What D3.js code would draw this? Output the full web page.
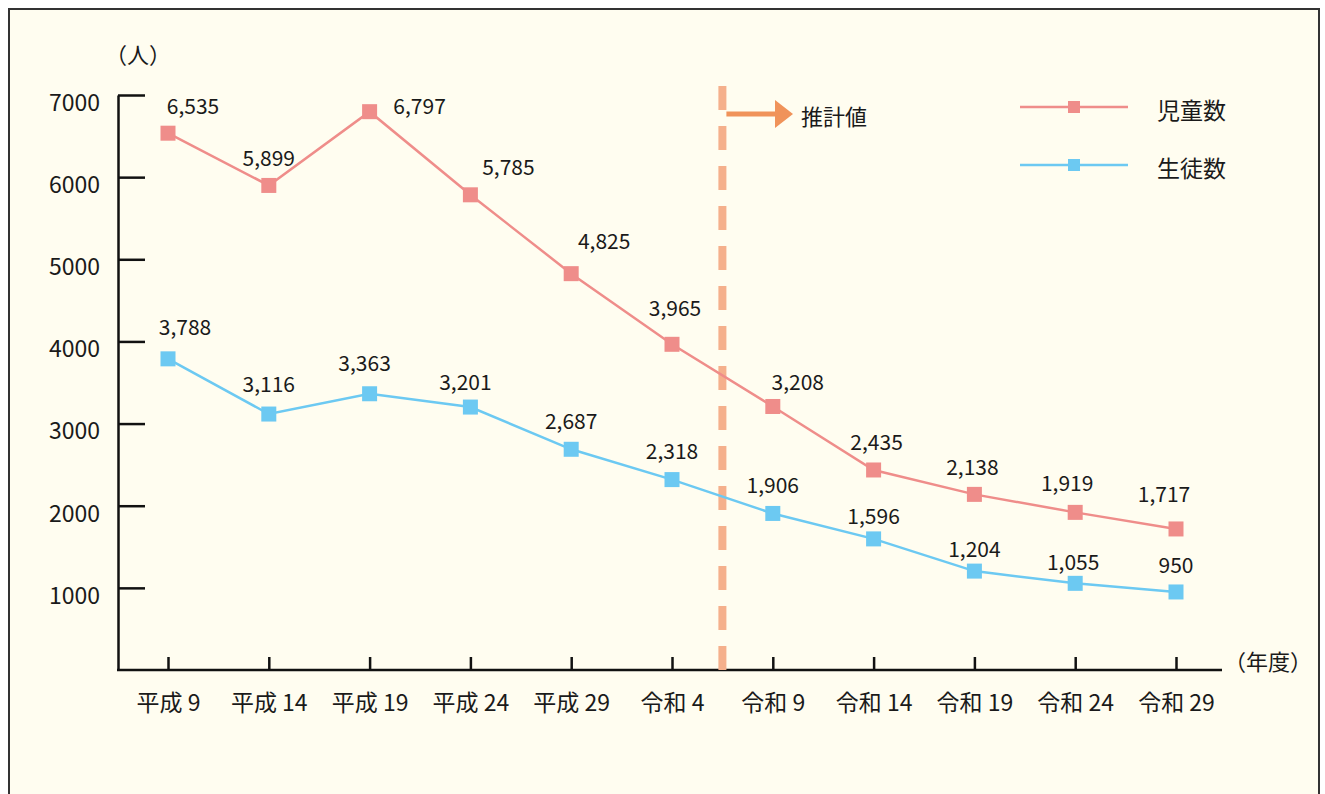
<!DOCTYPE html>
<html>
<head>
<meta charset="utf-8">
<script src="https://cdn.jsdelivr.net/npm/d3@7"></script>
<style>
  html, body { margin: 0; padding: 0; background: #ffffff; }
  svg text { font-family: "Noto Sans CJK JP", "Noto Sans", sans-serif; fill: #1a1a1a; }
</style>
</head>
<body>
<div id="chart"></div>
<script>
// years on the x axis
var years = ["平成 9", "平成 14", "平成 19", "平成 24", "平成 29", "令和 4",
             "令和 9", "令和 14", "令和 19", "令和 24", "令和 29"];
// 児童数 (elementary pupils)
var jidou = [6535, 5899, 6797, 5785, 4825, 3965, 3208, 2435, 2138, 1919, 1717];
// 生徒数 (junior high students)
var seito = [3788, 3116, 3363, 3201, 2687, 2318, 1906, 1596, 1204, 1055, 950];
var yTicks = [1000, 2000, 3000, 4000, 5000, 6000, 7000];

// small nudges for the value labels, as in the original
var jidouNudge = [[25, -28], [0, -28], [50, -7], [38, -29], [33, -34], [3, -37],
                  [25, -25], [3, -29], [-2, -28], [-8, -30], [-12, -36]];
var seitoNudge = [[17, -33], [0, -31], [-5, -32], [-5, -26], [0, -29], [0, -30],
                  [0, -29], [0, -24], [0, -23], [-2, -22], [0, -28]];

var width = 1325, height = 794;
var red = "#ef8d8a", blue = "#6cc9f2";
var markerSize = 15;

var svg = d3.select("#chart").append("svg")
  .attr("width", width)
  .attr("height", height);

// panel background and frame
svg.append("rect")
  .attr("x", 9).attr("y", 9)
  .attr("width", 1310).attr("height", 800)
  .attr("fill", "#fffdf0")
  .attr("stroke", "#333")
  .attr("stroke-width", 2);

var xScale = d3.scalePoint().domain(years).range([168, 1176]);
var yScale = d3.scaleLinear().domain([0, 7000]).range([670, 95]);

// y axis, ticks pointing inward
var yAxis = d3.axisLeft(yScale)
  .tickValues(yTicks)
  .tickSize(-27)
  .tickSizeOuter(0)
  .tickPadding(18)
  .tickFormat(d3.format("d"));

var gy = svg.append("g").attr("transform", "translate(118,0)").call(yAxis);
gy.select(".domain").attr("stroke", "#111").attr("stroke-width", 2.5);
gy.selectAll(".tick line").attr("stroke", "#111").attr("stroke-width", 2.5);
gy.selectAll("text")
  .attr("y", 8)
  .style("font-size", "23px")
  .attr("fill", "#1a1a1a");

// x axis
var xAxis = d3.axisBottom(xScale).tickSize(-13).tickSizeOuter(0).tickPadding(25);
var gx = svg.append("g").attr("transform", "translate(0,670)").call(xAxis);
gx.select(".domain").remove();
gx.selectAll(".tick line").attr("stroke", "#111").attr("stroke-width", 2.5);
gx.selectAll("text").style("font-size", "23px").attr("fill", "#1a1a1a");
svg.append("line")
  .attr("x1", 117).attr("x2", 1222)
  .attr("y1", 670).attr("y2", 670)
  .attr("stroke", "#111").attr("stroke-width", 2.5);

// axis units
svg.append("text").attr("x", 138).attr("y", 53)
  .attr("text-anchor", "middle").attr("dominant-baseline", "central")
  .style("font-size", "22px").text("（人）");
svg.append("text").attr("x", 1268).attr("y", 660)
  .attr("text-anchor", "middle").attr("dominant-baseline", "central")
  .style("font-size", "22px").text("（年度）");

// boundary of estimated values
var xSplit = (xScale(years[5]) + xScale(years[6])) / 2;
svg.append("line")
  .attr("x1", xSplit).attr("x2", xSplit)
  .attr("y1", 670).attr("y2", 78)
  .attr("stroke", "#f5b08c")
  .attr("stroke-width", 8)
  .attr("stroke-dasharray", "24,16");

svg.append("line")
  .attr("x1", xSplit + 4).attr("x2", 777)
  .attr("y1", 114).attr("y2", 114)
  .attr("stroke", "#f0935a").attr("stroke-width", 5);
svg.append("path")
  .attr("d", "M775,100 L793,114 L775,128 Z")
  .attr("fill", "#f0935a");
svg.append("text").attr("x", 801).attr("y", 115)
  .attr("dominant-baseline", "central")
  .style("font-size", "22px").text("推計値");

// series
var series = [
  { name: "児童数", values: jidou, color: red, nudge: jidouNudge, legendY: 107 },
  { name: "生徒数", values: seito, color: blue, nudge: seitoNudge, legendY: 165 }
];

var line = d3.line()
  .x((d, i) => xScale(years[i]))
  .y(d => yScale(d));

var fmt = d3.format(",");

series.forEach(function (s) {
  svg.append("path")
    .attr("d", line(s.values))
    .attr("fill", "none")
    .attr("stroke", s.color)
    .attr("stroke-width", 2.5);

  svg.append("g").selectAll("rect")
    .data(s.values)
    .join("rect")
    .attr("x", (d, i) => xScale(years[i]) - markerSize / 2)
    .attr("y", d => yScale(d) - markerSize / 2)
    .attr("width", markerSize)
    .attr("height", markerSize)
    .attr("fill", s.color);

  svg.append("g").selectAll("text")
    .data(s.values)
    .join("text")
    .attr("x", (d, i) => xScale(years[i]) + s.nudge[i][0])
    .attr("y", (d, i) => yScale(d) + s.nudge[i][1])
    .attr("text-anchor", "middle")
    .attr("dominant-baseline", "central")
    .style("font-size", "21px")
    .text(d => fmt(d));

  // legend
  svg.append("line")
    .attr("x1", 1020).attr("x2", 1128)
    .attr("y1", s.legendY).attr("y2", s.legendY)
    .attr("stroke", s.color).attr("stroke-width", 2.5);
  svg.append("rect")
    .attr("x", 1074 - 6).attr("y", s.legendY - 6)
    .attr("width", 12).attr("height", 12)
    .attr("fill", s.color);
  svg.append("text")
    .attr("x", 1157).attr("y", s.legendY + 2)
    .attr("dominant-baseline", "central")
    .style("font-size", "23px")
    .text(s.name);
});
</script>
</body>
</html>
